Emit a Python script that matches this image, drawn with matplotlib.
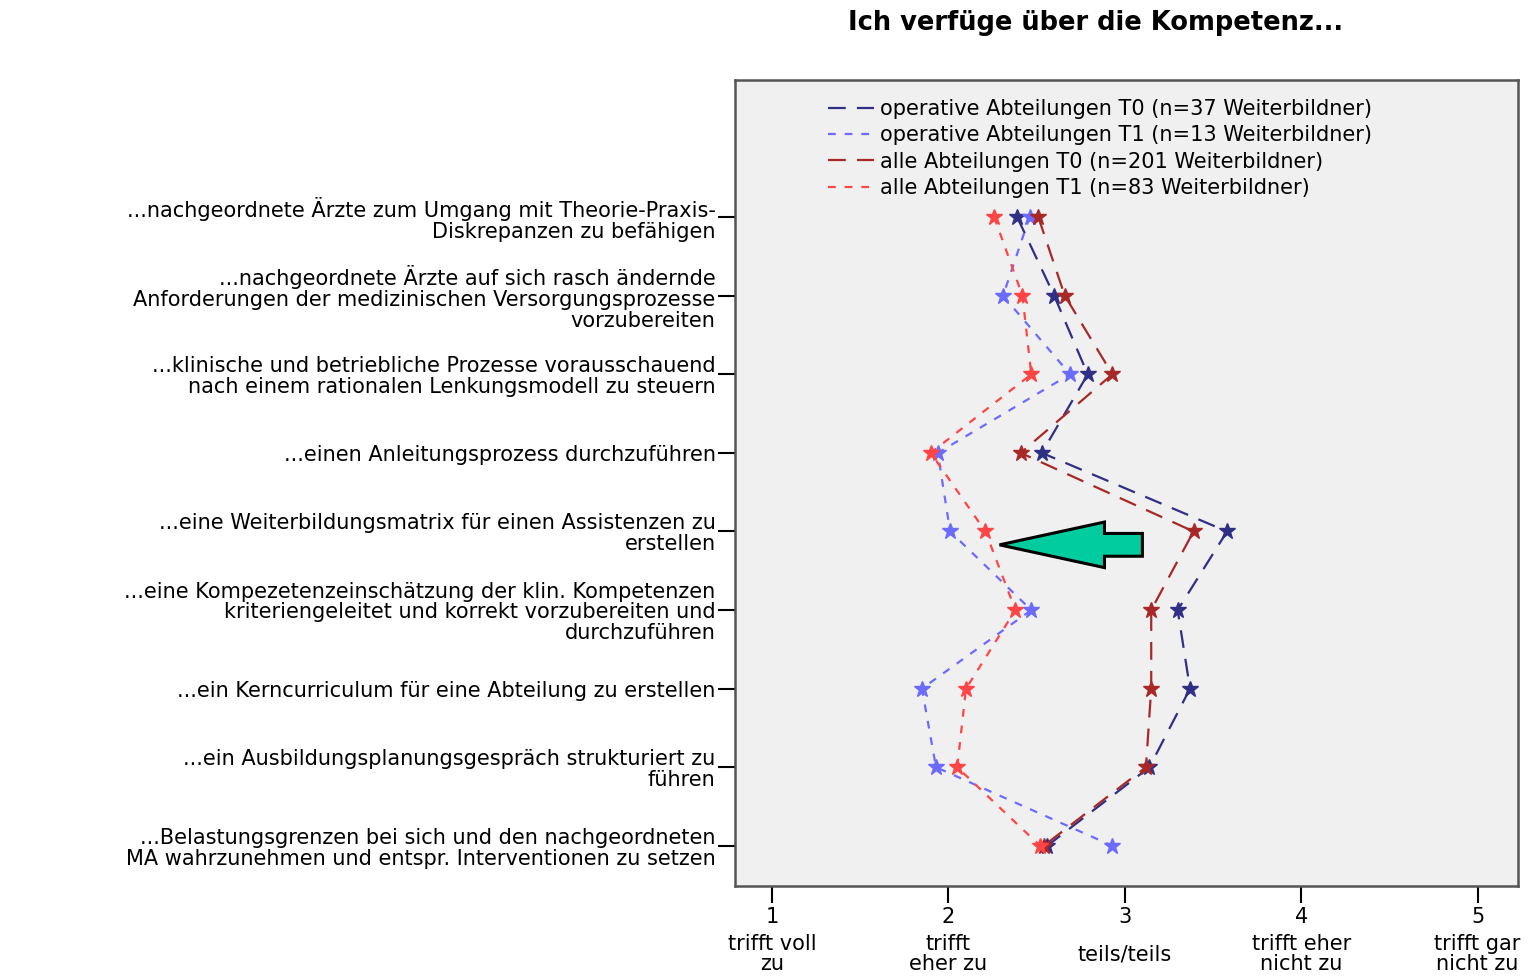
import matplotlib.pyplot as plt
import numpy as np
from matplotlib.patches import FancyArrow
from matplotlib.lines import Line2D

plt.rcParams['font.family'] = ['DejaVu Sans']

# Items (rows, top to bottom)
items = [
    "...nachgeordnete Ärzte zum Umgang mit Theorie-Praxis-\nDiskrepanzen zu befähigen",
    "...nachgeordnete Ärzte auf sich rasch ändernde\nAnforderungen der medizinischen Versorgungsprozesse\nvorzubereiten",
    "...klinische und betriebliche Prozesse vorausschauend\nnach einem rationalen Lenkungsmodell zu steuern",
    "...einen Anleitungsprozess durchzuführen",
    "...eine Weiterbildungsmatrix für einen Assistenzen zu\nerstellen",
    "...eine Kompezetenzeinschätzung der klin. Kompetenzen\nkriteriengeleitet und korrekt vorzubereiten und\ndurchzuführen",
    "...ein Kerncurriculum für eine Abteilung zu erstellen",
    "...ein Ausbildungsplanungsgespräch strukturiert zu\nführen",
    "...Belastungsgrenzen bei sich und den nachgeordneten\nMA wahrzunehmen und entspr. Interventionen zu setzen",
]

# Mean ratings per series
op_t0 = [2.39, 2.60, 2.79, 2.53, 3.58, 3.30, 3.37, 3.14, 2.56]
op_t1 = [2.46, 2.31, 2.69, 1.94, 2.01, 2.47, 1.85, 1.93, 2.93]
all_t0 = [2.51, 2.66, 2.93, 2.41, 3.39, 3.15, 3.15, 3.12, 2.54]
all_t1 = [2.26, 2.42, 2.47, 1.90, 2.21, 2.38, 2.10, 2.05, 2.52]

series_names = [
    "operative Abteilungen T0 (n=37 Weiterbildner)",
    "operative Abteilungen T1 (n=13 Weiterbildner)",
    "alle Abteilungen T0 (n=201 Weiterbildner)",
    "alle Abteilungen T1 (n=83 Weiterbildner)",
]
colors = ["#2f2f85", "#6b6bff", "#a82828", "#ff4545"]
dashes = [(8, 5), (3.5, 4), (8, 5), (3.5, 4)]

scale_vals = [1, 2, 3, 4, 5]
scale_text = ["trifft voll\nzu", "trifft\neher zu", "teils/teils",
              "trifft eher\nnicht zu", "trifft gar\nnicht zu"]

# highlight arrow (tail x, y row, tip x)
arrow_tail = 3.10
arrow_tip = 2.29
arrow_row = 4.17

fs = 15

fig = plt.figure(figsize=(15.28, 9.8), dpi=100)
ax = fig.add_axes([0.481, 0.096, 0.5125, 0.822])
ax.set_facecolor("#f0f0f0")

ypos = np.arange(len(items))
handles = []
for vals, name, c, d in zip([op_t0, op_t1, all_t0, all_t1], series_names, colors, dashes):
    ax.plot(vals, ypos, color=c, lw=1.6, dashes=d, marker="*", markersize=12)
    handles.append(Line2D([], [], color=c, lw=1.6, dashes=d, label=name))

ax.add_patch(FancyArrow(arrow_tail, arrow_row, arrow_tip - arrow_tail, 0,
                        width=0.29, head_width=0.58, head_length=0.595,
                        length_includes_head=True, facecolor="#00cc9f",
                        edgecolor="black", lw=2.2, zorder=5))

ax.set_xlim(0.79, 5.23)
ax.set_ylim(8.51, -1.74)
ax.set_yticks(ypos)
ax.set_yticklabels(items, fontsize=fs, linespacing=1.05)
ax.set_xticks(scale_vals)
ax.set_xticklabels([str(v) for v in scale_vals], fontsize=fs)
ax.tick_params(axis="y", length=12, width=1.5, pad=2)
ax.tick_params(axis="x", length=12, width=1.5, pad=3)
for s in ax.spines.values():
    s.set_color("#555555")
    s.set_linewidth(1.8)

for v, t in zip(scale_vals, scale_text):
    ax.text(v, -0.085, t, transform=ax.get_xaxis_transform(), ha="center",
            va="center", fontsize=fs, linespacing=1.0)

ax.legend(handles=handles, loc="upper left", bbox_to_anchor=(0.095, 1.0),
          frameon=False, fontsize=fs, handlelength=2.2, handletextpad=0.3,
          labelspacing=0.3)

fig.text(0.717, 0.977, "Ich verfüge über die Kompetenz...", ha="center",
         va="center", fontsize=18.5, fontweight="bold")

fig.savefig("out.png", dpi=100)
